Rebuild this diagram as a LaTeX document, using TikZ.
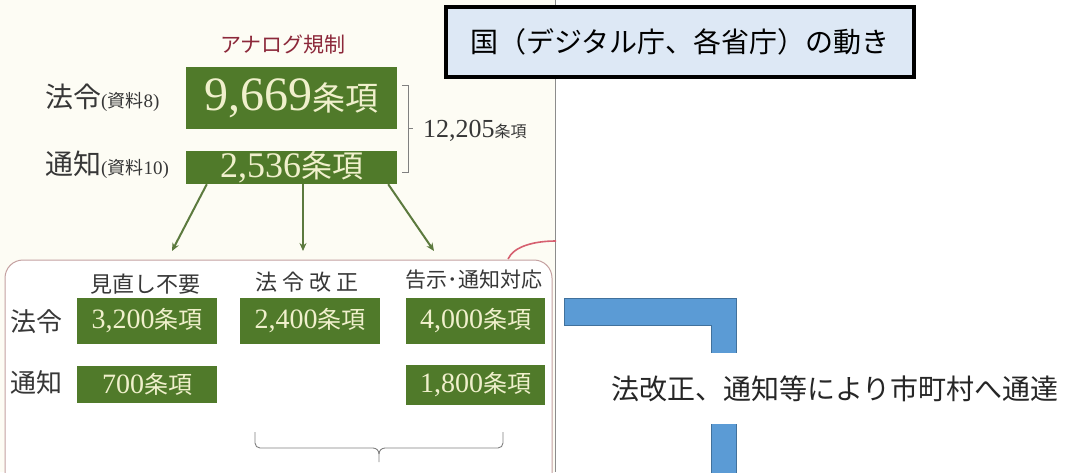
\documentclass[tikz,border=0pt]{standalone}
\usepackage{fontspec}
\setmainfont{Liberation Serif}
\newfontfamily\jp{Noto Sans CJK JP}
\usetikzlibrary{arrows.meta}
\definecolor{gfill}{RGB}{80,122,42}
\definecolor{gtext}{RGB}{240,240,204}
\definecolor{garr}{RGB}{92,122,62}
\definecolor{hred}{RGB}{140,40,58}
\definecolor{ink}{RGB}{55,55,55}
\definecolor{slidebg}{RGB}{253,252,244}
\definecolor{frame}{RGB}{196,160,160}
\definecolor{curvered}{RGB}{214,96,112}
\definecolor{govfill}{RGB}{221,232,245}
\definecolor{lfill}{RGB}{91,155,213}
\definecolor{ldraw}{RGB}{65,113,156}
\newcommand\numjp[4]{{\fontsize{#1}{#1}\selectfont #3}{\jp\fontsize{#2}{#2}\selectfont #4}}
\newcommand\jpsz[2]{{\jp\fontsize{#1}{#1}\selectfont #2}}
\tikzset{
  gbox/.style={fill=gfill, text=gtext, inner sep=0pt, minimum width=#1, anchor=center},
  garrow/.style={draw=garr, line width=2pt, -{Stealth[length=8pt,width=7pt]}},
  lbl/.style={text=ink, inner sep=0pt},
  colhead/.style={text=ink, inner sep=0pt},
  govbox/.style={draw=black, line width=3.5pt, fill=govfill, minimum width=468pt, minimum height=70pt, inner sep=0pt},
}
\begin{document}
\begin{tikzpicture}[x=1pt,y=-1pt]
\clip (0,0) rectangle (1086,472);
\useasboundingbox (0,0) rectangle (1086,472);
\fill[white] (0,0) rectangle (1086,472);
\fill[slidebg] (0,0) rectangle (555,472);
% vertical separator
\draw[black!45, line width=0.8pt] (555.5,0) -- (555.5,472);

% heading
\node[text=hred, inner sep=0pt] (head) at (283,45) {\jpsz{21}{アナログ規制}};

% top green boxes
\node[gbox=211pt, minimum height=62pt] (b1) at (291.5,98) {\numjp{48}{33}{9,669}{条項}};
\node[gbox=211pt, minimum height=33pt] (b2) at (291.5,167.5) {\numjp{36}{31}{2,536}{条項}};

\node[lbl, anchor=west] (l1) at (45,98) {\jpsz{28}{法令}{\fontsize{19}{19}\selectfont(}\jpsz{18}{資料}{\fontsize{19}{19}\selectfont 8)}};
\node[lbl, anchor=west] (l2) at (45,165) {\jpsz{28}{通知}{\fontsize{19}{19}\selectfont(}\jpsz{18}{資料}{\fontsize{19}{19}\selectfont 10)}};

% bracket
\draw[black!50, line width=0.8pt] (402,85) -- (408,85) -- (408,172) -- (402,172);
\draw[black!50, line width=0.8pt] (408,128) -- (413,128);
\node[lbl, anchor=west] (tot) at (423,131) {\numjp{26}{16}{12,205}{条項}};

% arrows
\coordinate (e1) at (172,251);
\coordinate (e2) at (303,251);
\coordinate (e3) at (434,251);
\draw[garrow] ([xshift=21pt]b2.south west) -- (e1);
\draw[garrow] ([xshift=11.5pt]b2.south) -- (e2);
\draw[garrow] ([xshift=-9pt]b2.south east) -- (e3);

% red curve
\coordinate (c1) at (508,259);
\coordinate (c2) at (556,241);
\draw[curvered, line width=1.6pt] (c1) .. controls (514,246) and (535,241) .. (c2);

% lower frame
\draw[frame, fill=white, line width=1pt, rounded corners=18pt] (5,260) rectangle (552,520);

% column headings
\node[colhead] (h1) at (145,284) {\jpsz{22}{見直し不要}};
\node[colhead] (h2) at (307,282) {\jpsz{22}{法 令 改 正}};
\node[colhead] (h3) at (474,280) {\jpsz{21}{告示･通知対応}};

% row labels
\node[lbl] (r1) at (36,322) {\jpsz{26}{法令}};
\node[lbl] (r2) at (36,383) {\jpsz{26}{通知}};

% row boxes
\node[gbox=140pt, minimum height=46pt] (ba) at (147,321) {\numjp{28}{24}{3,200}{条項}};
\node[gbox=140pt, minimum height=46pt] (bb) at (310,321) {\numjp{28}{24}{2,400}{条項}};
\node[gbox=139pt, minimum height=46pt] (bc) at (475.5,321) {\numjp{28}{24}{4,000}{条項}};
\node[gbox=140pt, minimum height=37pt] (ba2) at (147,384.5) {\numjp{28}{24}{700}{条項}};
\node[gbox=139pt, minimum height=40pt] (bc2) at (475.5,385) {\numjp{28}{24}{1,800}{条項}};

% brace
\draw[black!50, line width=0.9pt] (255,432) -- (255,443) to[out=-90,in=180] (260,448) -- (373,448)
  to[out=0,in=90] (379,454) -- (379,462);
\draw[black!50, line width=0.9pt] (379,454) to[out=90,in=180] (385,448) -- (498,448)
  to[out=0,in=-90] (503,443) -- (503,432);

% government box
\node[govbox] (gov) at (680,42) {\jpsz{28}{国（デジタル庁、各省庁）の動き}};

% blue L-shape
\filldraw[fill=lfill, draw=ldraw, line width=1pt] (564,298) -- (736,298) -- (736,490) -- (711,490) -- (711,325) -- (564,325) -- cycle;

% note
\node[fill=white, text=black!85, minimum height=71pt, inner xsep=2pt, inner ysep=0pt] (note) at (835,388.5) {\jpsz{28}{法改正、通知等により市町村へ通達}};
\end{tikzpicture}
\end{document}
